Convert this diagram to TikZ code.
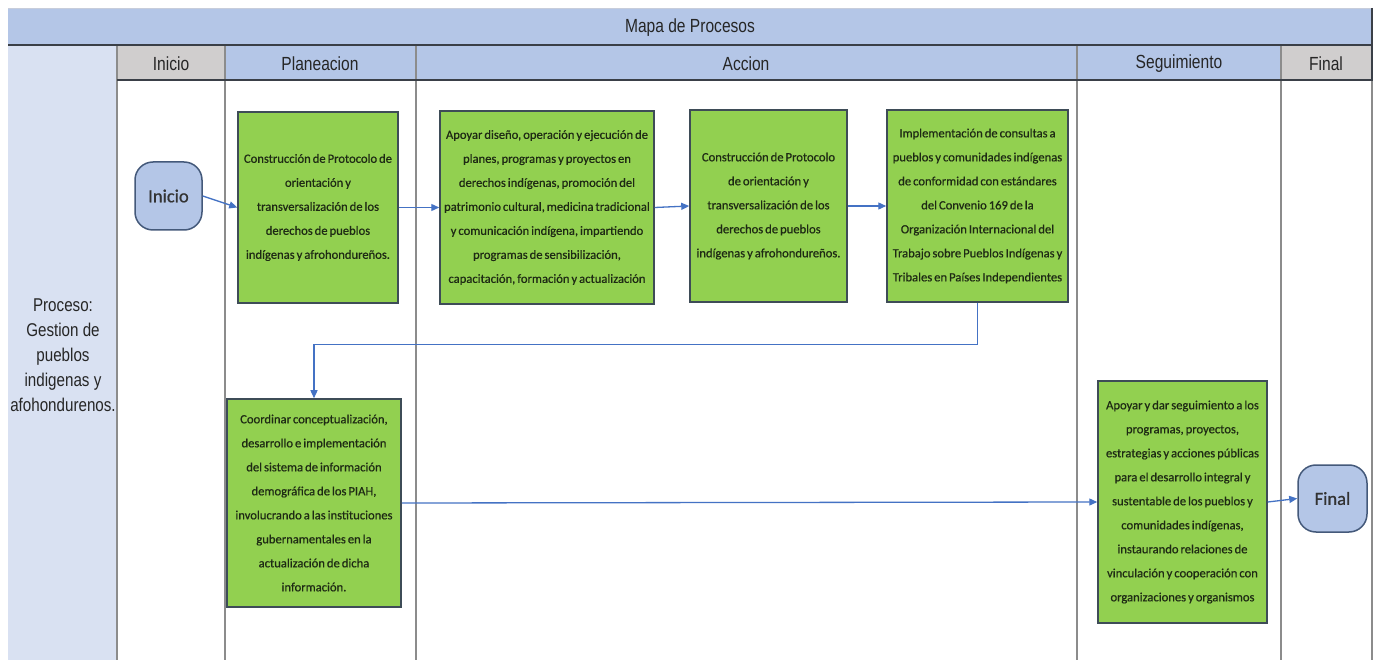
\documentclass[tikz,border=0pt]{standalone}
\usepackage{fontspec}
\setmainfont{Carlito}
\newfontfamily\hdrfont[FakeStretch=0.82]{Liberation Sans}
\newfontfamily\boxfont[WordSpace=0.7,FakeBold=0.6]{Carlito}
\newfontfamily\termfont[FakeBold=0.8]{Carlito}
\usetikzlibrary{arrows.meta}
\definecolor{titlebl}{HTML}{B4C6E7}
\definecolor{lanebl}{HTML}{D9E1F2}
\definecolor{hdrgray}{HTML}{D0CECE}
\definecolor{actgreen}{HTML}{92D050}
\definecolor{actborder}{HTML}{3E4C57}
\definecolor{termfill}{HTML}{B4C6E7}
\definecolor{termborder}{HTML}{44597A}
\definecolor{arrowbl}{HTML}{4472C4}
\definecolor{laneline}{HTML}{8C8C8C}
\definecolor{darkline}{HTML}{3A3F47}
\definecolor{boxtext}{HTML}{1E2A14}
\tikzset{
  hdrtext/.style={font=\hdrfont\fontsize{19}{24}\selectfont, text=black!85, inner sep=0pt},
  actbox/.style={draw=actborder, line width=1.5pt, fill=actgreen, inner sep=0pt, align=center,
     text=boxtext, font=\boxfont\fontsize{12.6}{24}\selectfont},
  termbox/.style={draw=termborder, line width=1.5pt, fill=termfill, rounded corners=18pt,
     inner sep=0pt, font=\termfont\fontsize{18.5}{20}\selectfont, text=black!80},
  arr/.style={draw=arrowbl, line width=1.3pt, -{Triangle[length=8pt,width=7pt]}},
  laneln/.style={draw=laneline, line width=1.6pt},
  darkln/.style={draw=darkline, line width=2pt}
}
\begin{document}
\begin{tikzpicture}[x=1pt,y=-1pt]
\useasboundingbox (0,0) rectangle (1377,660);
\fill[white] (0,0) rectangle (1377,660);
% title bar
\fill[titlebl] (8,8) rectangle (1372,45);
\draw[draw=lanebl!80!gray, line width=0.8pt] (8,8) -- (1372,8);
\node[hdrtext] (title) at (690,28) {Mapa de Procesos};
% left column
\fill[lanebl] (8,46) rectangle (117,660);
% header cells
\fill[hdrgray] (117,46) rectangle (225,80);
\fill[titlebl] (225,46) rectangle (1281,80);
\fill[hdrgray] (1281,46) rectangle (1372,80);
\node[hdrtext] (hInicio) at (171,64) {Inicio};
\node[hdrtext] (hPlan) at (320,64) {Planeacion};
\node[hdrtext] (hAcc) at (746,64) {Accion};
\node[hdrtext] (hSeg) at (1179,64) {Seguimiento};
\node[hdrtext] (hFin) at (1326,64) {Final};
% lane lines
\foreach \xx in {117,225,416,1077,1281,1372} {\draw[laneln] (\xx,46) -- (\xx,660);}
\draw[darkln] (8,45) -- (1373,45);
\draw[darkln] (117,80) -- (1373,80);
\draw[darkln] (1372,8) -- (1372,80);
% process label
\node[font=\hdrfont\fontsize{18.5}{25}\selectfont, text=black!85, align=center, inner sep=0pt]
  (proc) at (63,355) {Proceso:\\Gestion de\\pueblos\\indigenas y\\afohondurenos.};
% terminals
\node[termbox, minimum width=67pt, minimum height=68pt] (Inicio) at (168.5,196) {Inicio};
\node[termbox, minimum width=69pt, minimum height=67pt] (Final) at (1332.5,498.5) {Final};
% activity boxes
\node[actbox, minimum width=160pt, minimum height=191pt] (B1) at (318,207.5)
  {Construcción de Protocolo de\\orientación y\\transversalización de los\\derechos de pueblos\\indígenas y afrohondureños.};
\node[actbox, minimum width=214pt, minimum height=193pt] (B2) at (547,207.5)
  {Apoyar diseño, operación y ejecución de\\planes, programas y proyectos en\\derechos indígenas, promoción del\\patrimonio cultural, medicina tradicional\\y comunicación indígena, impartiendo\\programas de sensibilización,\\capacitación, formación y actualización};
\node[actbox, minimum width=157pt, minimum height=192pt] (B3) at (768.5,206)
  {Construcción de Protocolo\\de orientación y\\transversalización de los\\derechos de pueblos\\indígenas y afrohondureños.};
\node[actbox, minimum width=181pt, minimum height=192pt] (B4) at (977.5,206)
  {Implementación de consultas a\\pueblos y comunidades indígenas\\de conformidad con estándares\\del Convenio 169 de la\\Organización Internacional del\\Trabajo sobre Pueblos Indígenas y\\Tribales en Países Independientes};
\node[actbox, minimum width=174pt, minimum height=208pt] (B5) at (314,503)
  {Coordinar conceptualización,\\desarrollo e implementación\\del sistema de información\\demográfica de los PIAH,\\involucrando a las instituciones\\gubernamentales en la\\actualización de dicha\\información.};
\node[actbox, minimum width=169pt, minimum height=242pt] (B6) at (1182.5,502)
  {Apoyar y dar seguimiento a los\\programas, proyectos,\\estrategias y acciones públicas\\para el desarrollo integral y\\sustentable de los pueblos y\\comunidades indígenas,\\instaurando relaciones de\\vinculación y cooperación con\\organizaciones y organismos};
% connectors
\draw[arr] (Inicio.east) -- (B1.west);
\draw[arr] (B1.east) -- (B2.west);
\draw[arr] (B2.east) -- (B3.west);
\draw[arr] (B3.east) -- (B4.west);
\draw[arr] (B4.south) -- ++(0,42) -| (B5.north);
\draw[arr] (B5.east) -- (B6.west);
\draw[arr] (B6.east) -- (Final.west);
\end{tikzpicture}
\end{document}
